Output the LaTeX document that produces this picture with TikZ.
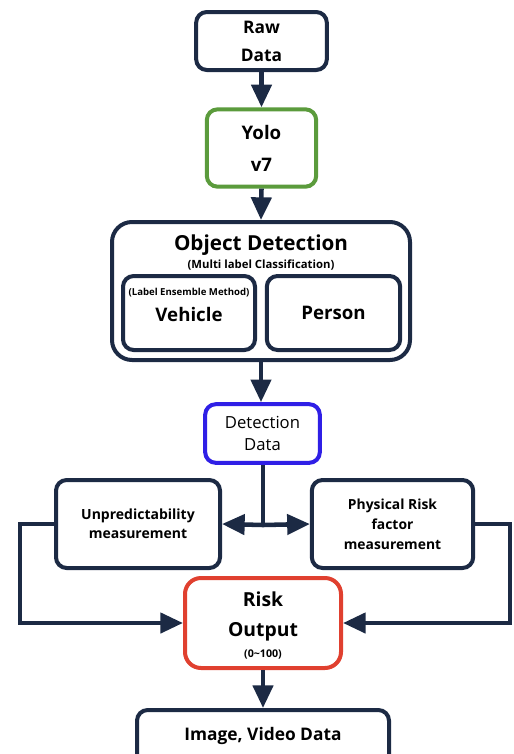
\documentclass[tikz,border=0pt]{standalone}
\usepackage{fontspec}
\setmainfont{Open Sans}
\usetikzlibrary{arrows.meta}
\definecolor{navy}{HTML}{1C2A44}
\definecolor{bgreen}{HTML}{5B9B3C}
\definecolor{bblue}{HTML}{2F1FE6}
\definecolor{bred}{HTML}{E0402F}
\tikzset{
  box/.style={draw=navy, line width=3pt, rounded corners=8pt, align=center, inner sep=0pt, fill=white},
  arr/.style={draw=navy, line width=3.4pt, -{Triangle[width=15pt,length=17pt]}},
  ln/.style={draw=navy, line width=3.4pt},
  txt/.style={inner sep=0pt, align=center, text=black},
}
\begin{document}
\begin{tikzpicture}[x=0.75pt,y=-0.75pt]
\useasboundingbox (0,0) rectangle (514,754);
\clip (0,0) rectangle (514,754);
% nodes
\node[box, minimum width=98pt, minimum height=43.5pt, font=\fontsize{13}{21}\selectfont\bfseries] (raw) at (261.5,41)
  {Raw\\Data};
\node[box, draw=bgreen, minimum width=82pt, minimum height=58pt, font=\fontsize{14}{24}\selectfont\bfseries] (yolo) at (261.5,148)
  {Yolo\\v7};
\node[box, rounded corners=15pt, minimum width=223.5pt, minimum height=103.5pt] (od) at (261,291) {};
\node[txt, font=\fontsize{15.5}{16}\selectfont\bfseries] (odt) at (261,245) {Object Detection};
\node[txt, font=\fontsize{8.5}{9}\selectfont\bfseries] (ods) at (261,265) {(Multi label Classification)};
\node[box, minimum width=99pt, minimum height=55.5pt] (veh) at (189,313) {};
\node[txt, font=\fontsize{7.2}{8}\selectfont\bfseries] (vehs) at (189,293) {(Label Ensemble Method)};
\node[txt, font=\fontsize{14}{16}\selectfont\bfseries] (veht) at (189,314) {Vehicle};
\node[box, minimum width=100pt, minimum height=55.5pt, font=\fontsize{14}{16}\selectfont\bfseries] (per) at (333.5,313)
  {Person};
\node[box, draw=bblue, minimum width=86pt, minimum height=44pt, font=\fontsize{12.5}{16}\selectfont] (det) at (262.5,433.5)
  {Detection\\Data};
\node[box, minimum width=123pt, minimum height=66pt, font=\fontsize{10.5}{14}\selectfont\bfseries] (unp) at (138,524)
  {Unpredictability\\measurement};
\node[box, minimum width=121pt, minimum height=66pt, font=\fontsize{10.4}{15}\selectfont\bfseries] (phy) at (392.5,524)
  {Physical Risk\\factor\\measurement};
\node[box, draw=bred, rounded corners=12pt, minimum width=117pt, minimum height=67.5pt] (risk) at (263,623) {};
\node[txt, font=\fontsize{14.5}{22.5}\selectfont\bfseries] (riskt) at (263,616) {Risk\\Output};
\node[txt, font=\fontsize{8}{9}\selectfont\bfseries] (risks) at (263,654) {(0\textasciitilde 100)};
\node[box, minimum width=189pt, minimum height=45pt] (img) at (263,740) {};
\node[txt, font=\fontsize{13}{14}\selectfont\bfseries] (imgt) at (263,736) {Image, Video Data};
\coordinate (j) at (263,525);
% connectors
\draw[arr] (raw.south) -- (yolo.north);
\draw[arr] (yolo.south) -- (od.north);
\draw[arr] (od.south) -- (od.south |- det.north);
\draw[ln] (det.south -| j) -- (j);
\draw[arr] (j) -- (unp.east);
\draw[arr] (j) -- (phy.west);
\draw[arr] (unp.west) -- ++(-34,0) |- (risk.west);
\draw[arr] (phy.east) -- ++(35,0) |- (risk.east);
\draw[arr] (risk.south) -- (img.north);
\end{tikzpicture}
\end{document}
